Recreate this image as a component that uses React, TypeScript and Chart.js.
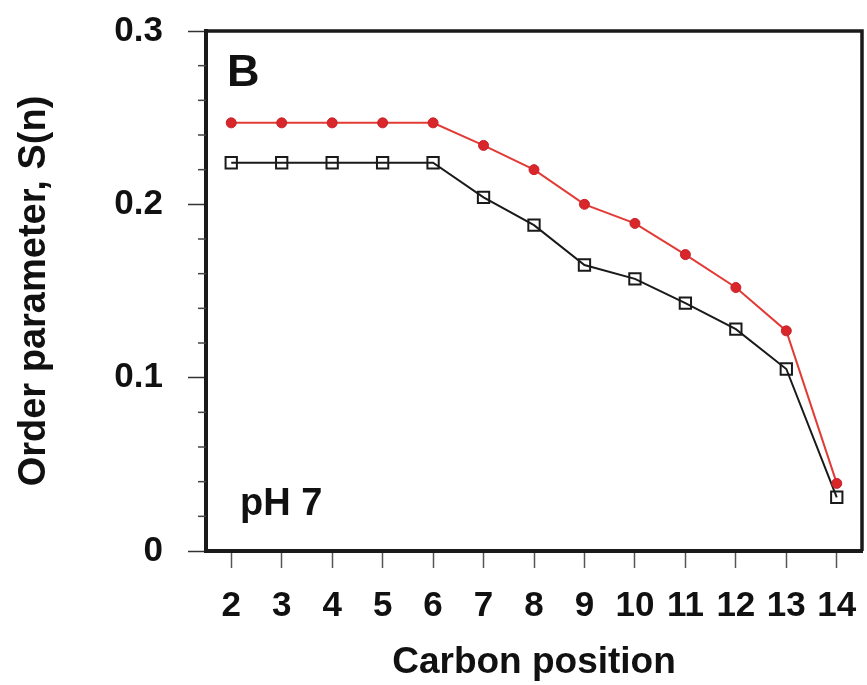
import React, { useEffect, useRef } from "react";
import { Chart, registerables } from "chart.js";

Chart.register(...registerables);

const carbonPositions = ["2", "3", "4", "5", "6", "7", "8", "9", "10", "11", "12", "13", "14"];
const redSeries = [0.247, 0.247, 0.247, 0.247, 0.247, 0.234, 0.220, 0.200, 0.189, 0.171, 0.152, 0.127, 0.039];
const blackSeries = [0.224, 0.224, 0.224, 0.224, 0.224, 0.204, 0.188, 0.165, 0.157, 0.143, 0.128, 0.105, 0.031];
const yMajorTicks = [0, 0.1, 0.2, 0.3];
const yMinorStep = 0.02;

const FONT = "'Liberation Sans', Arial, Helvetica, sans-serif";

const framePlugin = {
  id: "frameAndNotes",
  afterDraw(chart: any) {
    const { ctx, chartArea } = chart;
    const y = chart.scales.y;
    ctx.save();
    // top & right frame
    ctx.strokeStyle = "#1a1a1a";
    ctx.lineWidth = 3.5;
    ctx.beginPath();
    ctx.moveTo(chartArea.left, chartArea.top);
    ctx.lineTo(chartArea.right, chartArea.top);
    ctx.lineTo(chartArea.right, chartArea.bottom);
    ctx.stroke();
    // minor ticks on y
    ctx.lineWidth = 1.5;
    ctx.strokeStyle = "#444";
    const n = Math.round((y.max - y.min) / yMinorStep);
    for (let i = 0; i <= n; i++) {
      if (i % 5 === 0) continue;
      const py = y.getPixelForValue(y.min + i * yMinorStep);
      ctx.beginPath();
      ctx.moveTo(chartArea.left - 8, py);
      ctx.lineTo(chartArea.left, py);
      ctx.stroke();
    }
    // panel annotations
    ctx.fillStyle = "#111";
    ctx.textBaseline = "alphabetic";
    ctx.textAlign = "left";
    ctx.font = `bold 45px ${FONT}`;
    ctx.fillText("B", chartArea.left + 21, chartArea.top + 55);
    ctx.font = `bold 38px ${FONT}`;
    ctx.fillText("pH 7", chartArea.left + 34, chartArea.bottom - 36);
    ctx.restore();
  },
};

export default function App() {
  const ref = useRef<HTMLCanvasElement>(null);
  useEffect(() => {
    document.body.style.margin = "0";
    const canvas = ref.current!;
    const chart = new Chart(canvas, {
      type: "line",
      data: {
        labels: carbonPositions,
        datasets: [
          {
            label: "red",
            data: redSeries,
            borderColor: "#e23b35",
            borderWidth: 2,
            pointStyle: "circle",
            pointRadius: 5,
            pointBorderWidth: 1,
            pointBorderColor: "#c8222a",
            pointBackgroundColor: "#d8262a",
            tension: 0,
          },
          {
            label: "black",
            data: blackSeries,
            borderColor: "#1a1a1a",
            borderWidth: 2,
            pointStyle: "rect",
            pointRadius: 8,
            pointBorderWidth: 2,
            pointBorderColor: "#1a1a1a",
            pointBackgroundColor: "rgba(255,255,255,0)",
            tension: 0,
          },
        ],
      },
      options: {
        animation: false,
        responsive: false,
        layout: { autoPadding: false, padding: { top: 31, right: 5, left: 0, bottom: 0 } },
        plugins: { legend: { display: false }, tooltip: { enabled: false } },
        scales: {
          x: {
            type: "category",
            offset: true,
            grid: {
              drawOnChartArea: false,
              drawTicks: true,
              tickLength: 17,
              tickColor: "#555",
              tickWidth: 1.5,
              offset: false,
            },
            border: { display: true, color: "#1a1a1a", width: 4 },
            ticks: {
              color: "#111",
              font: { family: FONT, size: 35, weight: "bold" },
              padding: 17,
              maxRotation: 0,
              autoSkip: false,
            },
            title: {
              display: true,
              text: "Carbon position",
              color: "#111",
              font: { family: FONT, size: 37, weight: "bold", lineHeight: 1.2 },
              padding: { top: 0, bottom: 0 },
            },
            afterFit(scale: any) {
              scale.height = 134;
              scale.paddingLeft = 0;
              scale.paddingRight = 0;
              scale.paddingTop = 0;
              scale.paddingBottom = 0;
            },
          },
          y: {
            type: "linear",
            min: 0,
            max: 0.3,
            afterBuildTicks(scale: any) {
              scale.ticks = yMajorTicks.map((v) => ({ value: v }));
            },
            grid: {
              drawOnChartArea: false,
              drawTicks: true,
              tickLength: 18,
              tickColor: "#333",
              tickWidth: 1.5,
            },
            border: { display: true, color: "#1a1a1a", width: 4 },
            ticks: {
              color: "#111",
              font: { family: FONT, size: 35, weight: "bold" },
              padding: 25,
              callback: (v: any) => {
                const n = Number(v);
                return n === 0 ? "0" : (Math.round(n * 10) / 10).toFixed(1);
              },
            },
            title: {
              display: true,
              text: "Order parameter, S(n)",
              color: "#111",
              font: { family: FONT, size: 38, weight: "bold", lineHeight: 1.2 },
              padding: { top: 12, bottom: 0 },
            },
            afterFit(scale: any) {
              scale.width = 206;
              scale.paddingLeft = 0;
              scale.paddingRight = 0;
              scale.paddingTop = 0;
              scale.paddingBottom = 0;
            },
          },
        },
      },
      plugins: [framePlugin],
    });
    return () => chart.destroy();
  }, []);
  return (
    <div style={{ width: 867, height: 685, background: "#fff" }}>
      <canvas ref={ref} width={867} height={685} style={{ display: "block" }} />
    </div>
  );
}
